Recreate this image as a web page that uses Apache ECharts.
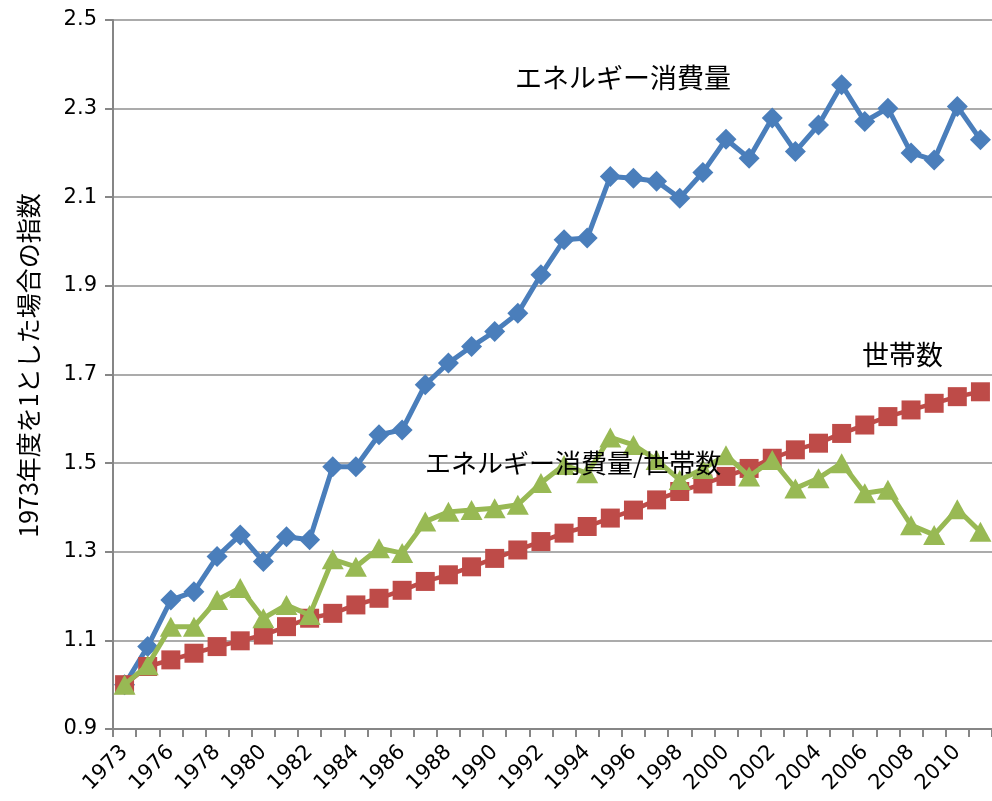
<!DOCTYPE html>
<html>
<head>
<meta charset="utf-8">
<script src="https://cdn.jsdelivr.net/npm/echarts@6/dist/echarts.min.js"></script>
<style>
  html, body { margin: 0; padding: 0; background: #fff; }
  #chart { width: 992px; height: 801px; }
</style>
</head>
<body>
<div id="chart"></div>
<script>
// 年度 (1974 is not in the source series)
const years = ['1973', '1975', '1976', '1977', '1978', '1979', '1980', '1981', '1982', '1983',
  '1984', '1985', '1986', '1987', '1988', '1989', '1990', '1991', '1992', '1993',
  '1994', '1995', '1996', '1997', '1998', '1999', '2000', '2001', '2002', '2003',
  '2004', '2005', '2006', '2007', '2008', '2009', '2010', '2011'];

// エネルギー消費量 (1973 = 1)
const energy = [1.00, 1.086, 1.191, 1.210, 1.289, 1.338, 1.278, 1.334, 1.327, 1.492,
  1.492, 1.564, 1.575, 1.677, 1.726, 1.763, 1.797, 1.838, 1.925, 2.004,
  2.008, 2.147, 2.143, 2.136, 2.098, 2.156, 2.231, 2.188, 2.279, 2.203,
  2.263, 2.354, 2.271, 2.301, 2.200, 2.184, 2.305, 2.230];

// 世帯数 (1973 = 1)
const households = [1.00, 1.041, 1.056, 1.071, 1.086, 1.099, 1.112, 1.131, 1.150, 1.161,
  1.180, 1.195, 1.213, 1.233, 1.248, 1.266, 1.285, 1.304, 1.323, 1.342,
  1.357, 1.376, 1.394, 1.417, 1.436, 1.453, 1.470, 1.488, 1.511, 1.530,
  1.545, 1.567, 1.586, 1.605, 1.620, 1.635, 1.650, 1.661];

// エネルギー消費量/世帯数
const perHousehold = [1.00, 1.044, 1.131, 1.131, 1.191, 1.218, 1.150, 1.180, 1.157, 1.283,
  1.266, 1.308, 1.297, 1.368, 1.390, 1.394, 1.398, 1.406, 1.455, 1.496,
  1.477, 1.558, 1.541, 1.507, 1.462, 1.487, 1.518, 1.470, 1.507, 1.443,
  1.466, 1.500, 1.432, 1.440, 1.360, 1.338, 1.396, 1.345];

const yMin = 0.9;
const yMax = 2.5;
const yStep = 0.2;

const axisGray = '#868686';
const gridGray = '#8f8f8f';
const labelFont = 'DejaVu Sans';
const jpFont = '"Noto Sans CJK JP"';

const chart = echarts.init(document.getElementById('chart'), null, { renderer: 'canvas' });

chart.setOption({
  animation: false,
  backgroundColor: '#ffffff',
  grid: { left: 113, top: 20, bottom: 72, width: 888, containLabel: false },
  xAxis: {
    type: 'category',
    data: years,
    boundaryGap: true,
    axisLine: { lineStyle: { color: axisGray, width: 2 } },
    axisTick: { show: true, interval: 0, length: 8, lineStyle: { color: axisGray, width: 2 } },
    axisLabel: {
      interval: 1,
      rotate: 45,
      margin: 20,
      color: '#000',
      fontFamily: labelFont,
      fontSize: 21
    },
    splitLine: { show: false }
  },
  yAxis: {
    type: 'value',
    min: yMin,
    max: yMax,
    interval: yStep,
    name: '1973年度を1とした場合の指数',
    nameLocation: 'middle',
    nameGap: 72,
    nameRotate: 90,
    nameTextStyle: { color: '#000', fontFamily: jpFont, fontSize: 25, padding: [0, 0, 0, 18] },
    axisLine: { show: true, lineStyle: { color: axisGray, width: 2 } },
    axisTick: { show: true, length: 8, lineStyle: { color: axisGray, width: 2 } },
    axisLabel: {
      margin: 16,
      color: '#000',
      fontFamily: labelFont,
      fontSize: 21,
      formatter: (v) => v.toFixed(1)
    },
    splitLine: { lineStyle: { color: gridGray, width: 1.5 } }
  },
  series: [
    {
      name: 'エネルギー消費量',
      type: 'line',
      data: energy,
      symbol: 'diamond',
      symbolSize: [21, 21],
      showAllSymbol: true,
      lineStyle: { color: '#4a7ebb', width: 5 },
      itemStyle: { color: '#4a7ebb' },
      z: 2
    },
    {
      name: '世帯数',
      type: 'line',
      data: households,
      symbol: 'rect',
      symbolSize: 19,
      showAllSymbol: true,
      lineStyle: { color: '#be4b48', width: 4.5 },
      itemStyle: { color: '#be4b48' },
      z: 3
    },
    {
      name: 'エネルギー消費量/世帯数',
      type: 'line',
      data: perHousehold,
      symbol: 'triangle',
      symbolSize: [22, 20],
      showAllSymbol: true,
      lineStyle: { color: '#98b954', width: 5 },
      itemStyle: { color: '#98b954' },
      z: 4
    }
  ],
  graphic: [
    {
      type: 'text', left: 515, top: 64, z: 10,
      style: { text: 'エネルギー消費量', font: '27px ' + jpFont, fill: '#000' }
    },
    {
      type: 'text', left: 862, top: 341, z: 10,
      style: { text: '世帯数', font: '27px ' + jpFont, fill: '#000' }
    },
    {
      type: 'text', left: 425, top: 450, z: 10,
      style: { text: 'エネルギー消費量/世帯数', font: '26px ' + jpFont, fill: '#000' }
    }
  ]
});
</script>
</body>
</html>
